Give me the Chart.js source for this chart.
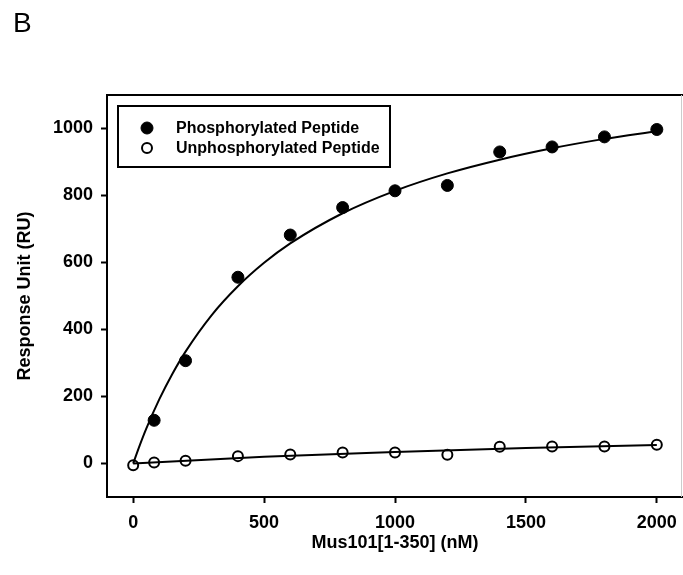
<!DOCTYPE html>
<html>
<head>
<meta charset="utf-8">
<script src="https://cdn.jsdelivr.net/npm/chart.js@4/dist/chart.umd.min.js"></script>
<style>
  html, body { margin: 0; padding: 0; background: #fff; overflow: hidden; }
</style>
</head>
<body>
<canvas id="bindingChart" width="683" height="575"></canvas>
<script>
"use strict";

// Mus101[1-350] concentration (nM) and measured response (RU)
const concPhos = [80, 200, 400, 600, 800, 1000, 1200, 1400, 1600, 1800, 2000];
const respPhos = [129, 307, 556, 682, 764, 814, 830, 930, 945, 975, 997];

const concUnphos = [0, 80, 200, 400, 600, 800, 1000, 1200, 1400, 1600, 1800, 2000];
const respUnphos = [-5, 3, 8, 22, 27, 33, 33, 26, 50, 51, 51, 56];

// Saturation binding fit lines
const fitPhosX = [0, 25, 50, 100, 150, 200, 300, 400, 500, 600, 800, 1000, 1200, 1400, 1600, 1800, 2000];
const fitPhosY = [0, 54, 104, 192, 268, 334, 443, 529, 599, 657, 747, 814, 866, 907, 941, 969, 992];
const fitUnphosX = [0, 500, 1000, 1500, 2000];
const fitUnphosY = [0, 20, 34, 46, 55];

const xTicks = [0, 500, 1000, 1500, 2000];
const yTicks = [0, 200, 400, 600, 800, 1000];

const FONT = '"Liberation Sans", Arial, sans-serif';
Chart.defaults.font.family = FONT;
Chart.defaults.color = "#000";

const toPoints = (xs, ys) => xs.map((x, i) => ({ x: x, y: ys[i] }));

// top/right frame lines, panel letter and boxed legend
const decorations = {
  id: "decorations",
  afterDraw(chart) {
    const { ctx, chartArea } = chart;
    ctx.save();
    ctx.strokeStyle = "#000";
    ctx.lineWidth = 2;
    ctx.beginPath();
    ctx.moveTo(chartArea.left, chartArea.top);
    ctx.lineTo(chartArea.right, chartArea.top);
    ctx.stroke();
    ctx.strokeStyle = "#ccc";
    ctx.lineWidth = 1;
    ctx.beginPath();
    ctx.moveTo(chartArea.right - 1.5, chartArea.top);
    ctx.lineTo(chartArea.right - 1.5, chartArea.bottom);
    ctx.stroke();

    ctx.fillStyle = "#000";
    ctx.font = "28px " + FONT;
    ctx.textBaseline = "top";
    ctx.textAlign = "left";
    ctx.fillText("B", 13, 10);

    // legend
    ctx.strokeStyle = "#000";
    ctx.lineWidth = 2;
    ctx.strokeRect(118, 106, 272, 61);
    const rows = [chart.data.datasets[2], chart.data.datasets[3]];
    ctx.font = "bold 16px " + FONT;
    ctx.textBaseline = "middle";
    rows.forEach((ds, i) => {
      const y = 128 + i * 20;
      ctx.beginPath();
      ctx.arc(147, y, ds.pointRadius, 0, Math.PI * 2);
      ctx.fillStyle = ds.pointBackgroundColor;
      ctx.fill();
      ctx.lineWidth = ds.pointBorderWidth;
      ctx.strokeStyle = ds.pointBorderColor;
      ctx.stroke();
      ctx.fillStyle = "#000";
      ctx.fillText(ds.label, 176, y + 1);
    });
    ctx.restore();
  }
};

const axisFont = { size: 18, weight: "bold" };
const plain = (v) => String(v);

new Chart(document.getElementById("bindingChart"), {
  type: "scatter",
  data: {
    datasets: [
      {
        label: "fit phosphorylated",
        data: toPoints(fitPhosX, fitPhosY),
        showLine: true,
        borderColor: "#000",
        borderWidth: 2,
        pointRadius: 0,
        cubicInterpolationMode: "monotone"
      },
      {
        label: "fit unphosphorylated",
        data: toPoints(fitUnphosX, fitUnphosY),
        showLine: true,
        borderColor: "#000",
        borderWidth: 2,
        pointRadius: 0,
        cubicInterpolationMode: "monotone"
      },
      {
        label: "Phosphorylated Peptide",
        data: toPoints(concPhos, respPhos),
        pointRadius: 6,
        pointBackgroundColor: "#000",
        pointBorderColor: "#000",
        pointBorderWidth: 1
      },
      {
        label: "Unphosphorylated Peptide",
        data: toPoints(concUnphos, respUnphos),
        pointRadius: 5,
        pointBackgroundColor: "rgba(0,0,0,0)",
        pointBorderColor: "#000",
        pointBorderWidth: 2
      }
    ]
  },
  options: {
    responsive: false,
    animation: false,
    layout: { autoPadding: false, padding: { top: 95, left: 0, right: 0, bottom: 0 } },
    plugins: {
      legend: { display: false },
      tooltip: { enabled: false }
    },
    scales: {
      x: {
        type: "linear",
        min: -100,
        max: 2100,
        afterBuildTicks: (s) => { s.ticks = xTicks.map((v) => ({ value: v })); },
        afterFit: (s) => {
          s.height = 78;
          s.paddingLeft = 0;
          s.paddingRight = 0;
        },
        grid: { drawOnChartArea: false, tickLength: 6, tickWidth: 2, tickColor: "#000" },
        border: { color: "#000", width: 2 },
        ticks: { font: axisFont, padding: 9, maxRotation: 0, callback: plain },
        title: {
          display: true,
          text: "Mus101[1-350] (nM)",
          font: axisFont,
          padding: { bottom: 21 }
        }
      },
      y: {
        type: "linear",
        min: -100,
        max: 1100,
        afterBuildTicks: (s) => { s.ticks = yTicks.map((v) => ({ value: v })); },
        afterFit: (s) => {
          s.width = 107;
          s.paddingTop = 0;
          s.paddingBottom = 0;
        },
        grid: { drawOnChartArea: false, tickLength: 6, tickWidth: 2, tickColor: "#000" },
        border: { color: "#000", width: 2 },
        ticks: { font: axisFont, padding: 8, callback: plain },
        title: {
          display: true,
          text: "Response Unit (RU)",
          font: axisFont,
          padding: { top: 14 }
        }
      }
    }
  },
  plugins: [decorations]
});
</script>
</body>
</html>
